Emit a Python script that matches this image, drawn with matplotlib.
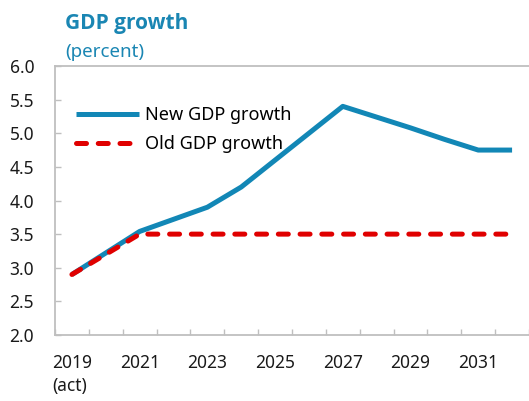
import numpy as np
import matplotlib.pyplot as plt

plt.rcParams['font.family'] = ['Noto Sans', 'DejaVu Sans']

years = ['2019\n(act)', '2020', '2021', '2022', '2023', '2024', '2025', '2026',
         '2027', '2028', '2029', '2030', '2031', '2032']
new_gdp = [2.9, 3.22, 3.54, 3.72, 3.9, 4.2, 4.6, 5.0, 5.4, 5.24, 5.08, 4.91, 4.75, 4.75]
old_gdp = [2.9, 3.2, 3.5, 3.5, 3.5, 3.5, 3.5, 3.5, 3.5, 3.5, 3.5, 3.5, 3.5, 3.5]

new_color = '#1287B6'
old_color = '#E00000'
title_color = '#1A86B3'
axis_color = '#BFBFBF'
text_color = '#1a1a1a'

fig = plt.figure(figsize=(5.29, 4.01), dpi=100)
ax = fig.add_axes([55 / 529, 1 - 335 / 401, 474 / 529, (335 - 66) / 401])

x = np.arange(len(years))
ax.plot(x, new_gdp, color=new_color, lw=3.6, label='New GDP growth', solid_capstyle='butt')
ax.plot(x, old_gdp, color=old_color, lw=3.6, linestyle=(0, (2.0, 2.35)), label='Old GDP growth',
        dash_capstyle='round')

ax.set_xlim(-0.5, len(years) - 0.5)
ax.set_ylim(2.0, 6.0)
yt = np.arange(2.0, 6.01, 0.5)
ax.set_yticks(yt)
ax.set_yticklabels(['%.1f' % v for v in yt], fontsize=12.5, color=text_color)

# category axis: ticks at boundaries, labels every other year
ax.set_xticks(np.arange(-0.5, len(years) - 0.4, 1.0))
ax.set_xticklabels([])
ax.set_xticks(x[::2], minor=True)
ax.set_xticklabels(years[::2], minor=True, fontsize=12.5, color=text_color, ha='center', va='top',
                   multialignment='left', linespacing=1.35)
ax.tick_params(axis='x', which='major', direction='in', length=4, width=1, color=axis_color)
ax.tick_params(axis='x', which='minor', length=0, pad=14)
ax.tick_params(axis='y', direction='in', length=4, width=1, color=axis_color, pad=15)

for s in ['left', 'top', 'bottom']:
    ax.spines[s].set_color(axis_color)
    ax.spines[s].set_linewidth(1.3)
ax.spines['right'].set_visible(False)

ax.legend(loc='upper left', bbox_to_anchor=(0.01, 0.91), frameon=False, fontsize=13,
          handlelength=3.5, handletextpad=0.3, labelspacing=0.6, borderaxespad=0.5)

fig.text(65 / 529, 1 - 29 / 401, 'GDP growth', fontsize=15, fontweight='bold', color=title_color,
         family=['Open Sans', 'DejaVu Sans'])
fig.text(65 / 529, 1 - 57 / 401, '(percent)', fontsize=13.5, color=title_color)

plt.savefig('out.png', dpi=100)
